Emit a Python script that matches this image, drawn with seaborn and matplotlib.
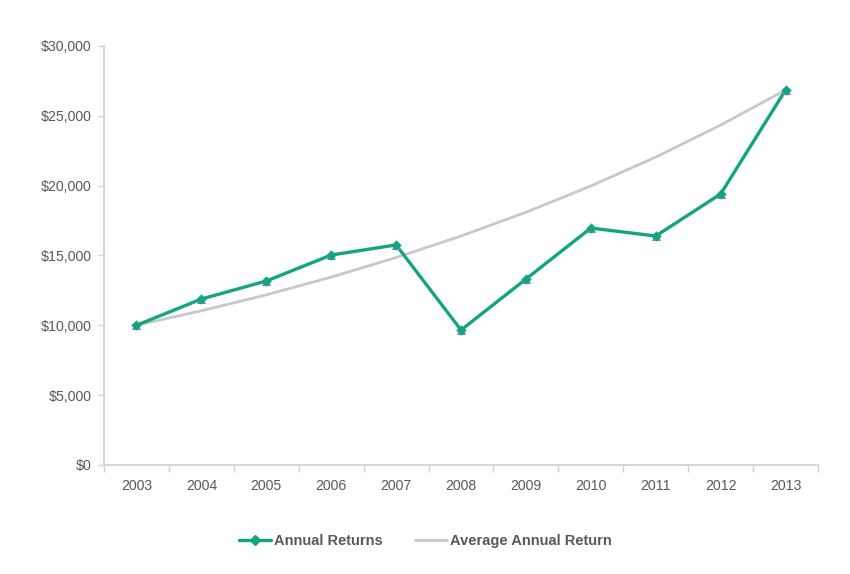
import matplotlib
matplotlib.use("Agg")
import matplotlib.pyplot as plt
import seaborn as sns
import pandas as pd
import numpy as np
from matplotlib.ticker import FuncFormatter, FixedLocator
from matplotlib.lines import Line2D

years = ["2003", "2004", "2005", "2006", "2007", "2008", "2009", "2010", "2011", "2012", "2013"]
annual_returns = [10000, 11880, 13170, 15030, 15750, 9660, 13310, 16960, 16390, 19400, 26840]
average_return = [10000, 11040, 12180, 13450, 14850, 16390, 18090, 19970, 22040, 24330, 26840]
y_ticks = [0, 5000, 10000, 15000, 20000, 25000, 30000]

sns.set_theme(style="white")
plt.rcParams['font.family'] = ['Liberation Sans', 'DejaVu Sans']

green = "#13a67e"
gray = "#c8c8c8"
tri = "#6f86d6"
text_col = "#595959"
spine_col = "#d0d0d0"

df = pd.DataFrame({
    "pos": np.arange(len(years)),
    "Annual Returns": annual_returns,
    "Average Annual Return": average_return,
})

fig = plt.figure(figsize=(8.5, 5.74), dpi=100)
ax = fig.add_axes([0.1224, 0.1899, 0.84, 0.7302])

sns.lineplot(data=df, x="pos", y="Average Annual Return", ax=ax, color=gray, linewidth=2.0, zorder=2)
sns.lineplot(data=df, x="pos", y="Annual Returns", ax=ax, color=green, linewidth=2.4, zorder=3)
sns.scatterplot(data=df, x="pos", y="Annual Returns", ax=ax, color=tri, marker="^", s=42,
                linewidth=0, zorder=4)
sns.scatterplot(data=df, x="pos", y="Annual Returns", ax=ax, color=green, marker="D", s=28,
                linewidth=0, zorder=5)

ax.set_xlim(-0.5, len(years) - 0.5)
ax.set_ylim(0, 30000)
ax.set_yticks(y_ticks)
ax.yaxis.set_major_formatter(FuncFormatter(lambda v, p: "${:,.0f}".format(v)))
ax.set_xticks(np.arange(len(years)))
ax.set_xticklabels(years)
ax.xaxis.set_minor_locator(FixedLocator(np.arange(-0.5, len(years), 1.0)))
ax.tick_params(axis="x", which="major", length=0, pad=10, labelsize=10.2, labelcolor=text_col)
ax.tick_params(axis="x", which="minor", length=5, width=1, color=spine_col, direction="out", bottom=True)
ax.tick_params(axis="y", which="major", length=4, width=1, color=spine_col, direction="out", left=True,
               pad=5, labelsize=10.2, labelcolor=text_col)
ax.set_xlabel("")
ax.set_ylabel("")
for s in ["top", "right"]:
    ax.spines[s].set_visible(False)
for s in ["left", "bottom"]:
    ax.spines[s].set_color(spine_col)
    ax.spines[s].set_linewidth(1.2)
ax.grid(False)

handles = [
    Line2D([0], [0], color=green, linewidth=2.4, marker="D", markersize=5),
    Line2D([0], [0], color=gray, linewidth=2.0),
]
leg = fig.legend(handles, ["Annual Returns", "Average Annual Return"], loc="center",
                 bbox_to_anchor=(0.5, 0.058), ncol=2, frameon=False, handlelength=2.2,
                 handletextpad=0.2, columnspacing=2.2,
                 prop={"weight": "bold", "size": 10.5})
for t in leg.get_texts():
    t.set_color(text_col)

fig.savefig("out.png", dpi=100)
